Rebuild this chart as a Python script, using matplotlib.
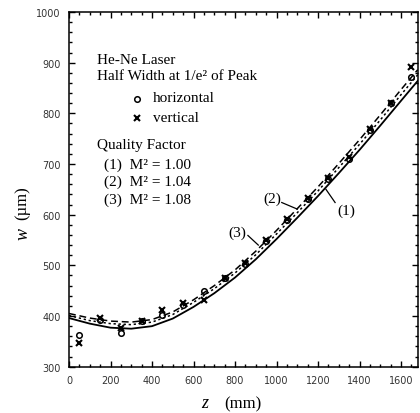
import matplotlib
matplotlib.use("Agg")
import matplotlib.pyplot as plt
from matplotlib.ticker import MultipleLocator

# ---- data ----
z_meas = [50, 150, 250, 350, 450, 550, 650, 750, 850, 950, 1050, 1150, 1250, 1350, 1450, 1550, 1650]
w_horizontal = [362, 392, 367, 391, 402, 421, 449, 475, 503, 549, 590, 630, 670, 710, 768, 820, 871]
w_vertical = [347, 396, 377, 391, 411, 425, 432, 476, 505, 551, 592, 633, 673, 713, 770, 821, 891]

z_fit = [0, 100, 200, 300, 400, 500, 600, 700, 800, 900, 1000, 1100, 1200, 1300, 1400, 1500, 1600, 1680]
w_fit1 = [396, 385, 377, 375, 380, 395, 418, 445, 476, 512, 552, 594, 637, 682, 728, 776, 825, 864]
w_fit2 = [401, 391, 385, 383, 388, 403, 427, 454, 485, 521, 562, 604, 647, 693, 739, 787, 837, 876]
w_fit3 = [405, 396, 390, 388, 393, 408, 432, 460, 491, 528, 569, 612, 655, 701, 748, 797, 847, 886]

xticks = [0, 200, 400, 600, 800, 1000, 1200, 1400, 1600]
yticks = [300, 400, 500, 600, 700, 800, 900, 1000]

W, H = 420, 414
fig = plt.figure(figsize=(W / 100, H / 100), dpi=100)
ax = fig.add_axes([69 / W, 1 - 367.7 / H, (417.7 - 69) / W, (367.7 - 13) / H])

serif = ["Liberation Serif", "DejaVu Serif"]

ax.plot(z_fit, w_fit1, color="black", lw=1.3, ls="-")
ax.plot(z_fit, w_fit2, color="black", lw=1.1, ls=(0, (1.5, 1.8)))
ax.plot(z_fit, w_fit3, color="black", lw=1.1, ls=(0, (4.5, 2.5)))

ax.plot(z_meas, w_horizontal, ls="none", marker="o", ms=4, mfc="none", mec="black", mew=1.1)
ax.plot(z_meas, w_vertical, ls="none", marker="x", ms=4, mec="black", mew=1.5)

ax.set_xlim(0, 1680)
ax.set_ylim(300, 1000)
ax.set_xticks(xticks)
ax.set_yticks(yticks)
ax.xaxis.set_minor_locator(MultipleLocator(50))
ax.yaxis.set_minor_locator(MultipleLocator(20))
ax.tick_params(which="both", direction="in", top=True, right=True, width=1.0,
               labelsize=7, labelcolor="#333333", color="black")
ax.tick_params(which="major", length=4, pad=6)
ax.tick_params(which="minor", length=2.2)
for s in ax.spines.values():
    s.set_linewidth(1.1)

# curve labels with leader lines
ax.text(978, 633, "(2)", fontsize=11, family=serif, ha="center", va="center")
ax.plot([1025, 1100], [624, 611], color="black", lw=0.9)
ax.text(1335, 609, "(1)", fontsize=11, family=serif, ha="center", va="center")
ax.plot([1238, 1282], [650, 624], color="black", lw=0.9)
ax.text(810, 566, "(3)", fontsize=11, family=serif, ha="center", va="center")
ax.plot([862, 912], [559, 540], color="black", lw=0.9)

def ftext(x, y, s, **kw):
    kw.setdefault("family", serif)
    kw.setdefault("fontsize", 11)
    kw.setdefault("va", "center")
    fig.text(x / W, 1 - y / H, s, **kw)

ftext(96.7, 61, "He-Ne Laser")
ftext(96.7, 76, "Half Width at 1/e² of Peak")
ftext(153, 98.5, "horizontal")
ftext(153, 118.5, "vertical")
ftext(96.7, 145, "Quality Factor")
ftext(104, 165, "(1)  M² = 1.00")
ftext(104, 182.5, "(2)  M² = 1.04")
ftext(104, 200, "(3)  M² = 1.08")

# legend symbols
ax.plot([137.3 / W], [1 - 99.5 / H], transform=fig.transFigure, marker="o", ms=4,
        mfc="none", mec="black", mew=1.1, clip_on=False)
ax.plot([137.3 / W], [1 - 119 / H], transform=fig.transFigure, marker="x", ms=4,
        mec="black", mew=1.5, clip_on=False)

# axis labels
ftext(205, 404, "z", style="italic", fontsize=13, ha="center")
ftext(243, 404, "(mm)", fontsize=12, ha="center")
ftext(23, 234, "w", style="italic", fontsize=13, ha="center", rotation=90)
ftext(22, 203, "(µm)", fontsize=12, ha="center", rotation=90)

fig.savefig("out.png", dpi=100)
